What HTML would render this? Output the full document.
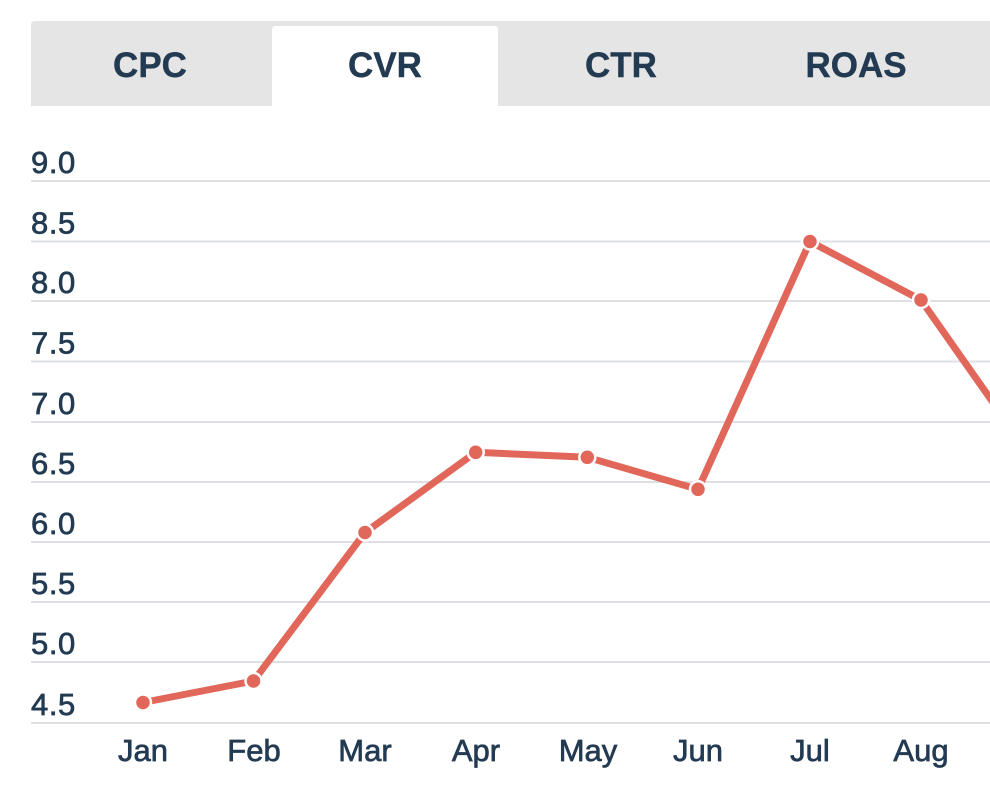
<!DOCTYPE html>
<html>
<head>
<meta charset="utf-8">
<style>
  html, body { margin: 0; padding: 0; background: #ffffff; }
  body { width: 990px; height: 790px; overflow: hidden; }
  svg { display: block; }
</style>
</head>
<body>
<svg width="990" height="790" viewBox="0 0 990 790" xmlns="http://www.w3.org/2000/svg">
  <rect x="0" y="0" width="990" height="790" fill="#ffffff"/>
  <!-- tab bar -->
  <path d="M31,25 Q31,21 35,21 L990,21 L990,106 L31,106 Z" fill="#e5e5e5"/>
  <path d="M272,106 L272,30 Q272,26 276,26 L494,26 Q498,26 498,30 L498,106 Z" fill="#ffffff"/>
  <g font-family="'Liberation Sans', Arial, sans-serif" font-weight="bold" font-size="35" fill="#233b52" stroke="#233b52" stroke-width="0.4" text-anchor="middle">
    <text x="150" y="77">CPC</text>
    <text x="385" y="77">CVR</text>
    <text x="621" y="77">CTR</text>
    <text x="856" y="77">ROAS</text>
  </g>

  <!-- gridlines -->
  <g stroke="#dde0e4" stroke-width="2">
    <line x1="31" y1="181" x2="990" y2="181"/>
    <line x1="31" y1="241.5" x2="990" y2="241.5"/>
    <line x1="31" y1="301" x2="990" y2="301"/>
    <line x1="31" y1="361.5" x2="990" y2="361.5"/>
    <line x1="31" y1="422" x2="990" y2="422"/>
    <line x1="31" y1="482" x2="990" y2="482"/>
    <line x1="31" y1="542" x2="990" y2="542"/>
    <line x1="31" y1="602" x2="990" y2="602"/>
    <line x1="31" y1="662" x2="990" y2="662"/>
    <line x1="31" y1="723" x2="990" y2="723"/>
  </g>

  <!-- y labels -->
  <g font-family="'Liberation Sans', Arial, sans-serif" font-size="31" fill="#233b52" stroke="#233b52" stroke-width="0.7" letter-spacing="0.6">
    <text x="31" y="173">9.0</text>
    <text x="31" y="233.5">8.5</text>
    <text x="31" y="293">8.0</text>
    <text x="31" y="353.5">7.5</text>
    <text x="31" y="414">7.0</text>
    <text x="31" y="474">6.5</text>
    <text x="31" y="534">6.0</text>
    <text x="31" y="594">5.5</text>
    <text x="31" y="654">5.0</text>
    <text x="31" y="715">4.5</text>
  </g>

  <!-- x labels -->
  <g font-family="'Liberation Sans', Arial, sans-serif" font-size="31" fill="#233b52" stroke="#233b52" stroke-width="0.7" text-anchor="middle">
    <text x="143" y="761">Jan</text>
    <text x="254" y="761">Feb</text>
    <text x="365" y="761">Mar</text>
    <text x="476" y="761">Apr</text>
    <text x="588" y="761">May</text>
    <text x="698" y="761">Jun</text>
    <text x="810" y="761">Jul</text>
    <text x="921" y="761">Aug</text>
  </g>

  <!-- series -->
  <polyline fill="none" stroke="#e2675b" stroke-width="7" stroke-linejoin="round" stroke-linecap="round"
    points="143,702.5 253.5,681 365,532.5 475.7,452.3 587.3,457.3 698,489.3 810,241.5 921,300 1032,458"/>
  <g fill="#e2675b" stroke="#ffffff" stroke-width="2.5">
    <circle cx="143" cy="702.5" r="8"/>
    <circle cx="253.5" cy="681" r="8"/>
    <circle cx="365" cy="532.5" r="8"/>
    <circle cx="475.7" cy="452.3" r="8"/>
    <circle cx="587.3" cy="457.3" r="8"/>
    <circle cx="698" cy="489.3" r="8"/>
    <circle cx="810" cy="241.5" r="8"/>
    <circle cx="921" cy="300" r="8"/>
  </g>
</svg>
</body>
</html>
